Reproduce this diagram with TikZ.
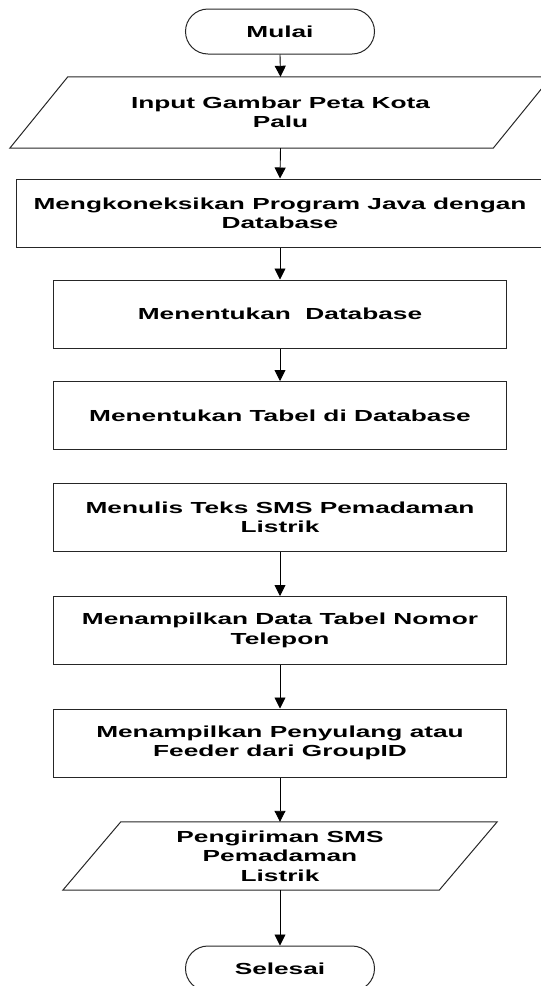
\documentclass[tikz,border=0pt]{standalone}
\usepackage{fontspec}
\newfontfamily\bagan[FakeStretch=1.64]{Liberation Sans}
\usetikzlibrary{shapes.misc,arrows.meta}
\tikzset{
garis/.style={draw=black!85,line width=1pt},
teks/.style={font=\bagan\bfseries\fontsize{16}{19.4}\selectfont,align=center,inner sep=0pt},
proses/.style={teks,garis,rectangle,minimum width=453,minimum height=68},
io/.style={teks,rectangle,minimum height=69},
terminal/.style={teks,garis,rounded rectangle,minimum width=189,minimum height=45},
panah/.style={-{Triangle[length=11pt,width=11pt]},line width=0.9pt}
}
\begin{document}
\begin{tikzpicture}[x=1pt,y=-1pt]
\useasboundingbox (0,0) rectangle (541,986);
\node[terminal] (mulai) at (280,31.5) {Mulai};
\node[io,minimum width=483,minimum height=71] (input) at (280.5,112.5) {Input Gambar Peta Kota\\Palu};
\node[proses,minimum width=528] (koneksi) at (280,213) {Mengkoneksikan Program Java dengan\\Database};
\node[proses] (database) at (280,314) {Menentukan\ \ Database};
\node[proses] (tabel) at (280,415.5) {Menentukan Tabel di Database};
\node[proses] (sms) at (280,517.5) {Menulis Teks SMS Pemadaman\\Listrik};
\node[proses] (telepon) at (280,630.5) {Menampilkan Data Tabel Nomor\\Telepon};
\node[proses] (feeder) at (280,743) {Menampilkan Penyulang atau\\Feeder dari GroupID};
\node[io,minimum width=376,minimum height=68] (kirim) at (280,856) {Pengiriman SMS\\Pemadaman\\Listrik};
\node[terminal] (selesai) at (280,968.5) {Selesai};
%jajaran genjang input/output
\foreach \n in {input,kirim}
\draw[garis] ([xshift=29pt]\n.north west)--([xshift=29pt]\n.north east)--([xshift=-29pt]\n.south east)--([xshift=-29pt]\n.south west)--cycle;
%tabel ke sms tidak ada panah
\foreach \a/\b in {mulai/input,input/koneksi,koneksi/database,database/tabel,sms/telepon,telepon/feeder,feeder/kirim,kirim/selesai}
\draw[panah] (\a.south)--(\b.north);
\end{tikzpicture}
\end{document}
